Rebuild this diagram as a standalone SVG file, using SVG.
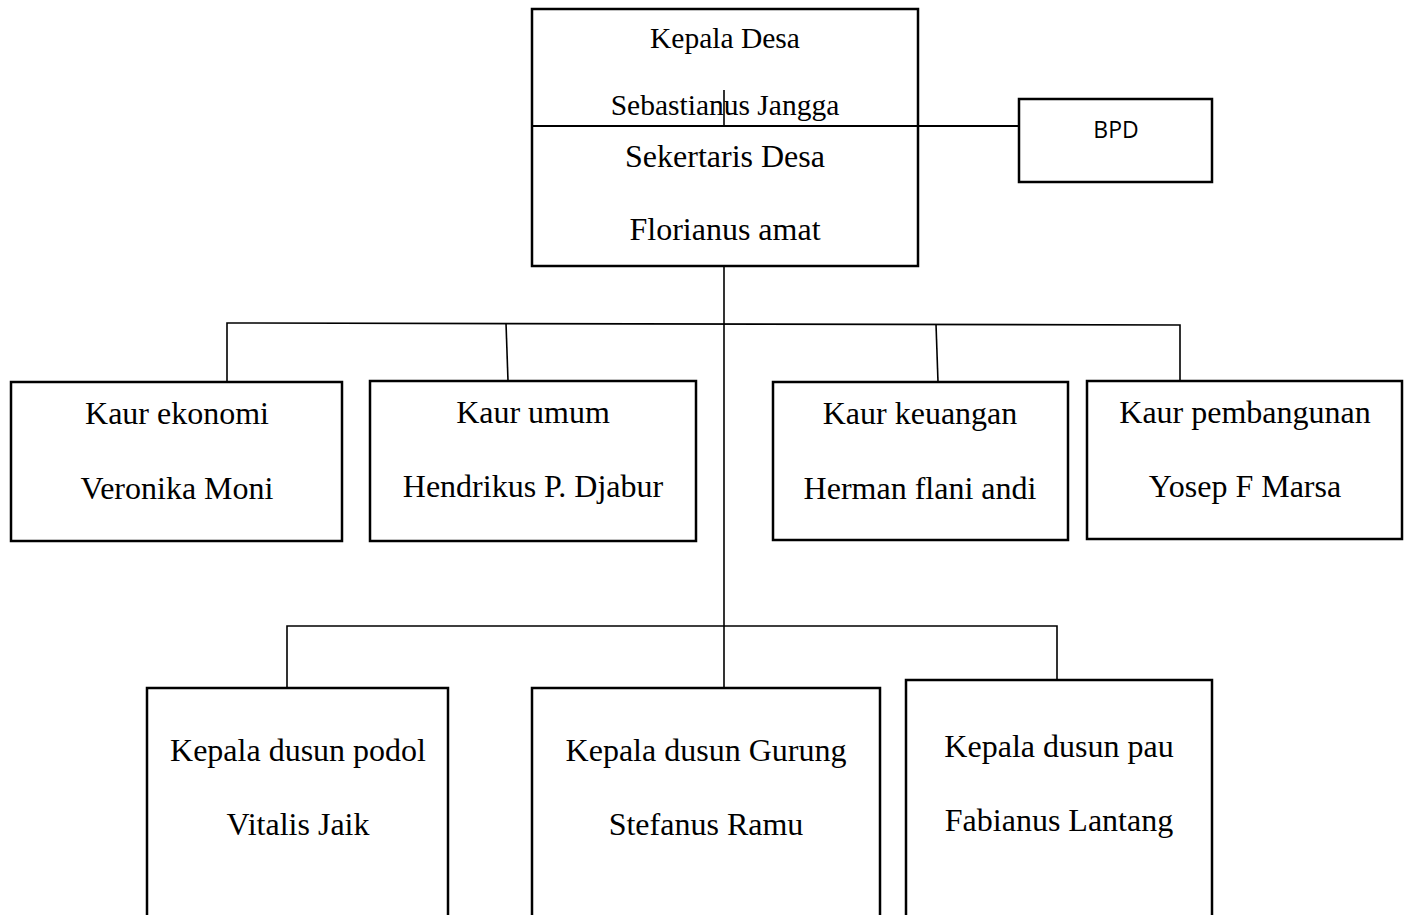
<svg xmlns="http://www.w3.org/2000/svg" width="1406" height="915" viewBox="0 0 1406 915">
<style>
.box{fill:#fff;stroke:#000;stroke-width:2.5}
.ln{fill:none;stroke:#000;stroke-width:1.6}
.t{font-family:"Liberation Serif","Times New Roman",serif;font-size:32px;fill:#000;text-anchor:middle}
.ts{font-size:29.5px}
.b{font-family:"Open Sans","Liberation Sans",sans-serif;font-size:23px;fill:#000;text-anchor:middle}
</style>
<rect width="1406" height="915" fill="#fff"/>
<g id="kepala-desa">
<rect class="box" x="532" y="9" width="386" height="257"/>
<text class="t ts" x="725" y="48">Kepala Desa</text>
<text class="t ts" x="725" y="115">Sebastianus Jangga</text>
<text class="t" x="725" y="167">Sekertaris Desa</text>
<text class="t" x="725" y="240">Florianus amat</text>
</g>
<g id="bpd">
<rect class="box" x="1019" y="99" width="193" height="83"/>
<text class="b" x="1116" y="138">BPD</text>
</g>
<g id="kaur-ekonomi">
<rect class="box" x="11" y="382" width="331" height="159"/>
<text class="t" x="177" y="424">Kaur ekonomi</text>
<text class="t" x="177" y="499">Veronika Moni</text>
</g>
<g id="kaur-umum">
<rect class="box" x="370" y="381" width="326" height="160"/>
<text class="t" x="533" y="423">Kaur umum</text>
<text class="t" x="533" y="497">Hendrikus P. Djabur</text>
</g>
<g id="kaur-keuangan">
<rect class="box" x="773" y="382" width="295" height="158"/>
<text class="t" x="920" y="424">Kaur keuangan</text>
<text class="t" x="920" y="499">Herman flani andi</text>
</g>
<g id="kaur-pembangunan">
<rect class="box" x="1087" y="381" width="315" height="158"/>
<text class="t" x="1245" y="423">Kaur pembangunan</text>
<text class="t" x="1245" y="497">Yosep F Marsa</text>
</g>
<g id="dusun-podol">
<rect class="box" x="147" y="688" width="301" height="240"/>
<text class="t" x="298" y="761">Kepala dusun podol</text>
<text class="t" x="298" y="835">Vitalis Jaik</text>
</g>
<g id="dusun-gurung">
<rect class="box" x="532" y="688" width="348" height="240"/>
<text class="t" x="706" y="761">Kepala dusun Gurung</text>
<text class="t" x="706" y="835">Stefanus Ramu</text>
</g>
<g id="dusun-pau">
<rect class="box" x="906" y="680" width="306" height="248"/>
<text class="t" x="1059" y="757">Kepala dusun pau</text>
<text class="t" x="1059" y="831">Fabianus Lantang</text>
</g>
<g id="connectors">
<line class="ln" x1="532" y1="126" x2="1019" y2="126" style="stroke-width:2"/>
<line class="ln" x1="724" y1="90" x2="724" y2="126"/>
<line class="ln" x1="724" y1="266" x2="724" y2="688"/>
<polyline class="ln" points="227,382 227,323 1180,325 1180,381"/>
<line class="ln" x1="506" y1="323" x2="508" y2="381"/>
<line class="ln" x1="936" y1="324" x2="938" y2="382"/>
<polyline class="ln" points="287,688 287,626 1057,626 1057,680"/>
</g>
</svg>
